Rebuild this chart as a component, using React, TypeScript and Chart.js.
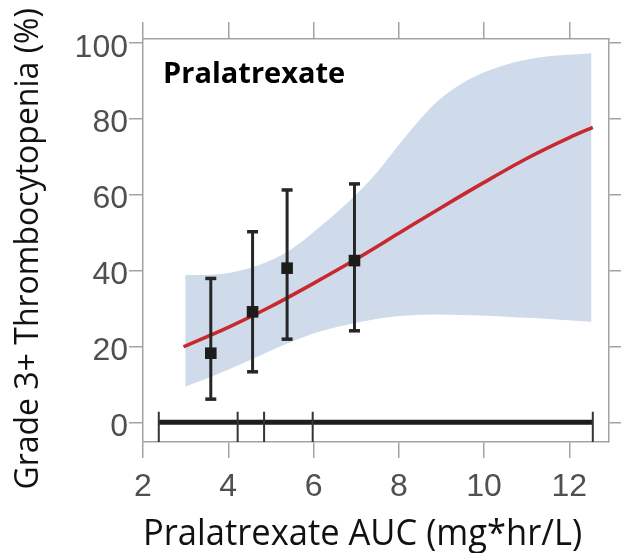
import React, { useEffect, useRef } from "react";
import { Chart, registerables } from "chart.js";

Chart.register(...registerables);

// ---- tick labels ----
const xTickValues = [2, 4, 6, 8, 10, 12];
const yTickValues = [0, 20, 40, 60, 80, 100];

// ---- fitted logistic curve (red) ----
const fitX = [2.95, 4, 5, 6, 7, 8, 9, 10, 11, 12, 12.55];
const fitY = [19.9, 25.0, 30.5, 36.6, 43.0, 49.8, 56.6, 63.2, 69.5, 75.0, 77.7];

// ---- confidence band ----
const bandX = [2.99, 3.6, 4.55, 5.4, 6.15, 7.0, 7.5, 8.1, 8.9, 9.67, 10.45, 11.24, 12.52];
const bandUpper = [38.8, 38.9, 40.8, 45.0, 51.5, 60.0, 66.0, 74.5, 84.5, 90.5, 94.0, 96.0, 97.2];
const bandLower = [9.4, 12.0, 16.6, 20.8, 23.9, 26.2, 27.3, 28.1, 28.4, 28.2, 27.9, 27.4, 26.5];

// ---- observed quartile points with error bars ----
const obsX = [3.59, 4.57, 5.38, 6.96];
const obsMean = [18.2, 29.1, 40.6, 42.6];
const obsLow = [6.1, 13.3, 21.9, 24.1];
const obsHigh = [37.9, 50.2, 61.2, 62.8];

// ---- exposure quartile boundaries (bottom strip) ----
const quartileBreaks = [2.37, 4.22, 4.84, 5.98, 12.55];
const stripLevel = 0;
const stripMarkTop = 2.8;

// ---- axis ranges ----
const X_MIN = 2;
const X_MAX = 12.93;
const Y_MIN = -5.19;
const Y_MAX = 100.97;

// ---- text ----
const panelLabel = "Pralatrexate";
const labelAt = { x: 2.47, y: 89.3 };
const xTitle = "Pralatrexate AUC (mg*hr/L)";
const yTitle = "Grade 3+ Thrombocytopenia (%)";

const frameGray = "#a3a3a3";
const tickGray = "#505050";
const tickFont = { family: "'Liberation Sans', Arial, sans-serif", size: 32 };
const xTitleFont = { family: "'Open Sans', 'Noto Sans', sans-serif", size: 36, lineHeight: 1 };
const yTitleFont = { family: "'Open Sans', 'Noto Sans', sans-serif", size: 32, lineHeight: 1 };

const pts = (xs: number[], ys: number[]) => xs.map((x, i) => ({ x, y: ys[i] }));

const panelLabelPlugin = {
  id: "panelLabel",
  afterDatasetsDraw(chart: any) {
    const { ctx, scales } = chart;
    ctx.save();
    ctx.font = "bold 29px 'Open Sans', 'Noto Sans', sans-serif";
    ctx.fillStyle = "#000000";
    ctx.textAlign = "left";
    ctx.textBaseline = "alphabetic";
    ctx.fillText(panelLabel, scales.x.getPixelForValue(labelAt.x), scales.y.getPixelForValue(labelAt.y));
    ctx.restore();
  },
};

export default function App() {
  const ref = useRef<HTMLCanvasElement>(null);

  useEffect(() => {
    const canvas = ref.current;
    if (!canvas) return;

    const common = { xAxisID: "x", yAxisID: "y" };
    const datasets: any[] = [];

    datasets.push({
      ...common,
      label: "band-lower",
      data: pts(bandX, bandLower),
      borderColor: "rgba(0,0,0,0)",
      borderWidth: 0,
      pointRadius: 0,
      fill: false,
      cubicInterpolationMode: "monotone",
      order: 20,
    });
    datasets.push({
      ...common,
      label: "band-upper",
      data: pts(bandX, bandUpper),
      borderColor: "rgba(0,0,0,0)",
      borderWidth: 0,
      pointRadius: 0,
      fill: "-1",
      backgroundColor: "#cfdaeb",
      cubicInterpolationMode: "monotone",
      order: 19,
    });
    datasets.push({
      ...common,
      label: "fit",
      data: pts(fitX, fitY),
      borderColor: "#c8282e",
      borderWidth: 3.5,
      pointRadius: 0,
      fill: false,
      cubicInterpolationMode: "monotone",
      order: 10,
    });
    datasets.push({
      ...common,
      label: "strip",
      data: [
        { x: quartileBreaks[0], y: stripLevel },
        { x: quartileBreaks[quartileBreaks.length - 1], y: stripLevel },
      ],
      borderColor: "#1e1e1e",
      borderWidth: 5,
      pointRadius: 0,
      fill: false,
      order: 8,
    });
    quartileBreaks.forEach((q, i) => {
      datasets.push({
        ...common,
        label: "break-" + i,
        data: [
          { x: q, y: stripMarkTop },
          { x: q, y: Y_MIN },
        ],
        borderColor: "#3a3232",
        borderWidth: 2,
        pointRadius: 0,
        fill: false,
        order: 7,
      });
    });
    obsX.forEach((x, i) => {
      datasets.push({
        ...common,
        label: "err-" + i,
        data: [
          { x, y: obsLow[i] },
          { x, y: obsHigh[i] },
        ],
        borderColor: "#262626",
        borderWidth: 3,
        pointStyle: "line",
        pointRadius: 5.5,
        pointBorderWidth: 3.5,
        pointBorderColor: "#262626",
        fill: false,
        order: 5,
      });
    });
    datasets.push({
      ...common,
      label: "observed",
      data: pts(obsX, obsMean),
      showLine: false,
      pointStyle: "rect",
      pointRadius: 8.2,
      pointBackgroundColor: "#1c1c1c",
      pointBorderWidth: 0,
      order: 1,
    });

    const setX = (s: any) => {
      s.ticks = xTickValues.map((v) => ({ value: v }));
    };
    const setY = (s: any) => {
      s.ticks = yTickValues.map((v) => ({ value: v }));
    };

    const chart = new Chart(canvas, {
      type: "line",
      data: { datasets },
      options: {
        animation: false,
        responsive: false,
        devicePixelRatio: 1,
        layout: { padding: 0 },
        plugins: {
          legend: { display: false },
          tooltip: { enabled: false },
          title: { display: false },
        },
        scales: {
          x: {
            type: "linear",
            position: "bottom",
            min: X_MIN,
            max: X_MAX,
            afterBuildTicks: setX,
            afterFit: (s: any) => {
              s.height = 111;
            },
            grid: { drawOnChartArea: false, color: frameGray, tickLength: 16, lineWidth: 1.5 },
            border: { color: frameGray, width: 1.5 },
            ticks: {
              font: tickFont,
              color: tickGray,
              padding: 10,
              maxRotation: 0,
              autoSkip: false,
              callback: (v: any) => String(v),
            },
            title: {
              display: true,
              text: xTitle + "   ",
              font: xTitleFont,
              color: "#111111",
              padding: { top: 0, bottom: 0 },
            },
          },
          x2: {
            type: "linear",
            position: "top",
            min: X_MIN,
            max: X_MAX,
            afterBuildTicks: setX,
            afterFit: (s: any) => {
              s.height = 39;
            },
            grid: { drawOnChartArea: false, color: frameGray, tickLength: 17, lineWidth: 1.5 },
            border: { color: frameGray, width: 1.5 },
            ticks: { display: false },
          },
          y: {
            type: "linear",
            position: "left",
            min: Y_MIN,
            max: Y_MAX,
            afterBuildTicks: setY,
            afterFit: (s: any) => {
              s.width = 143;
            },
            grid: { drawOnChartArea: false, color: frameGray, tickLength: 14, lineWidth: 1.5 },
            border: { color: frameGray, width: 1.5 },
            ticks: {
              font: tickFont,
              color: tickGray,
              padding: 1,
              labelOffset: 5,
              autoSkip: false,
              callback: (v: any) => String(v),
            },
            title: {
              display: true,
              text: yTitle + "  ",
              font: yTitleFont,
              color: "#111111",
              padding: { top: 13, bottom: 0 },
            },
          },
          y2: {
            type: "linear",
            position: "right",
            min: Y_MIN,
            max: Y_MAX,
            afterBuildTicks: setY,
            afterFit: (s: any) => {
              s.width = 12;
            },
            grid: { drawOnChartArea: false, color: frameGray, tickLength: 12, lineWidth: 1.5 },
            border: { color: frameGray, width: 1.5 },
            ticks: { display: false },
          },
        },
      },
      plugins: [panelLabelPlugin],
    } as any);

    return () => chart.destroy();
  }, []);

  return (
    <div style={{ position: "fixed", left: 0, top: 0, width: 621, height: 553, background: "#ffffff" }}>
      <canvas ref={ref} width={621} height={553} style={{ display: "block", width: 621, height: 553 }} />
    </div>
  );
}
